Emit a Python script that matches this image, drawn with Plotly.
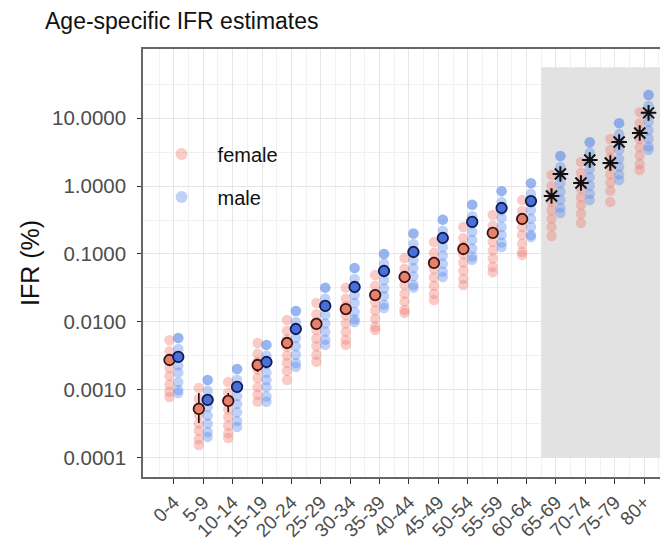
import plotly.graph_objects as go

age_groups = ["0-4", "5-9", "10-14", "15-19", "20-24", "25-29", "30-34", "35-39",
              "40-44", "45-49", "50-54", "55-59", "60-64", "65-69", "70-74", "75-79", "80+"]

# per-age-group sample estimates (IFR %)
female_samples = [
    [0.0054, 0.0037, 0.0028, 0.0021, 0.0016, 0.0012, 0.00094, 0.00079],
    [0.00107, 0.00074, 0.00056, 0.00043, 0.00032, 0.00025, 0.00019, 0.000155],
    [0.00131, 0.00091, 0.00069, 0.00052, 0.00040, 0.00030, 0.00023, 0.000197],
    [0.0049, 0.0034, 0.0026, 0.0020, 0.0015, 0.0011, 0.00085, 0.00067],
    [0.0107, 0.0074, 0.0056, 0.0043, 0.0032, 0.0025, 0.0019, 0.0014],
    [0.019, 0.013, 0.010, 0.0076, 0.0057, 0.0044, 0.0033, 0.0026],
    [0.032, 0.022, 0.017, 0.0126, 0.0095, 0.0072, 0.0055, 0.0046],
    [0.049, 0.034, 0.026, 0.0195, 0.0148, 0.0112, 0.0085, 0.0076],
    [0.087, 0.060, 0.046, 0.035, 0.026, 0.020, 0.015, 0.0136],
    [0.15, 0.104, 0.079, 0.060, 0.045, 0.034, 0.026, 0.021],
    [0.25, 0.17, 0.13, 0.099, 0.075, 0.057, 0.043, 0.035],
    [0.375, 0.26, 0.20, 0.15, 0.113, 0.086, 0.065, 0.054],
    [0.62, 0.43, 0.33, 0.25, 0.19, 0.14, 0.108, 0.097],
    [1.45, 1.0, 0.76, 0.58, 0.44, 0.33, 0.25, 0.184],
    [2.25, 1.56, 1.18, 0.90, 0.68, 0.52, 0.39, 0.286],
    [4.9, 3.4, 2.6, 1.95, 1.48, 1.12, 0.85, 0.58],
    [12.2, 8.4, 6.4, 4.9, 3.7, 2.8, 2.1, 1.72],
]
male_samples = [
    [0.0058, 0.0040, 0.0030, 0.0023, 0.0018, 0.0013, 0.0010, 0.00090],
    [0.0014, 0.00097, 0.00074, 0.00056, 0.00042, 0.00032, 0.00024, 0.000204],
    [0.00204, 0.00141, 0.00107, 0.00081, 0.00062, 0.00047, 0.00035, 0.000286],
    [0.0046, 0.0032, 0.0024, 0.0018, 0.0014, 0.0011, 0.0008, 0.00067],
    [0.0145, 0.010, 0.0076, 0.0058, 0.0044, 0.0033, 0.0025, 0.0022],
    [0.032, 0.022, 0.017, 0.0126, 0.0095, 0.0072, 0.0055, 0.0046],
    [0.062, 0.043, 0.033, 0.025, 0.019, 0.014, 0.011, 0.010],
    [0.10, 0.072, 0.054, 0.041, 0.031, 0.024, 0.018, 0.016],
    [0.20, 0.14, 0.107, 0.081, 0.062, 0.047, 0.035, 0.032],
    [0.32, 0.22, 0.17, 0.126, 0.095, 0.072, 0.055, 0.046],
    [0.53, 0.36, 0.28, 0.21, 0.16, 0.12, 0.092, 0.082],
    [0.84, 0.58, 0.44, 0.34, 0.25, 0.19, 0.147, 0.127],
    [1.1, 0.77, 0.58, 0.44, 0.33, 0.25, 0.19, 0.178],
    [2.76, 1.9, 1.45, 1.1, 0.83, 0.63, 0.48, 0.40],
    [4.4, 3.1, 2.3, 1.77, 1.34, 1.02, 0.77, 0.62],
    [8.4, 5.8, 4.4, 3.4, 2.5, 1.9, 1.47, 1.22],
    [21.8, 15.1, 11.4, 8.7, 6.6, 5.0, 3.8, 3.4],
]

female_est = [0.00276, 0.000526, 0.000689, 0.00233, 0.00491, 0.00935, 0.0155, 0.0249, 0.0459,
              0.0738, 0.1185, 0.204, 0.327, 0.713, 1.106, 2.18, 6.02]
male_est = [0.00306, 0.000713, 0.00111, 0.00258, 0.00789, 0.0172, 0.0327, 0.0562, 0.107,
            0.172, 0.296, 0.475, 0.601, 1.5, 2.41, 4.44, 11.9]
female_lo = [0.00276, 0.000327, 0.000474, 0.00184, 0.00491, 0.00935, 0.0155, 0.0249, 0.0459,
             0.0738, 0.1185, 0.204, 0.327, 0.713, 1.106, 2.18, 6.02]
female_hi = [0.00276, 0.000903, 0.000903, 0.00276, 0.00491, 0.00935, 0.0155, 0.0249, 0.0459,
             0.0738, 0.1185, 0.204, 0.327, 0.713, 1.106, 2.18, 6.02]
male_lo = [0.00306, 0.000601, 0.000935, 0.00258, 0.00789, 0.0172, 0.0327, 0.0562, 0.107,
           0.172, 0.296, 0.475, 0.601, 1.5, 2.41, 4.44, 11.9]
male_hi = [0.00306, 0.000843, 0.00131, 0.00258, 0.00789, 0.0172, 0.0327, 0.0562, 0.107,
           0.172, 0.296, 0.475, 0.601, 1.5, 2.41, 4.44, 11.9]

n_circle = 13  # groups drawn with circles; the rest with asterisks
dodge = 0.15

y_ticks = [0.0001, 0.001, 0.01, 0.1, 1, 10]
y_ticktext = ["0.0001", "0.0010", "0.0100", "0.1000", "1.0000", "10.0000"]

FONT = "Liberation Sans, Arial, sans-serif"
F_DOT = "rgba(240,128,118,0.40)"
M_DOT = "rgba(95,140,235,0.40)"

fig = go.Figure()

fx, fy, mx, my = [], [], [], []
for i in range(len(age_groups)):
    for v in female_samples[i]:
        fx.append(i - dodge); fy.append(v)
    for v in male_samples[i]:
        mx.append(i + dodge); my.append(v)
    # emphasise top sample for males
    mx.append(i + dodge); my.append(male_samples[i][0])

fig.add_trace(go.Scatter(x=fx, y=fy, mode="markers", name="female", legendgroup="f",
                         marker=dict(color=F_DOT, size=10.5, line=dict(width=0))))
fig.add_trace(go.Scatter(x=mx, y=my, mode="markers", name="male", legendgroup="m",
                         marker=dict(color=M_DOT, size=10.5, line=dict(width=0))))

idx = list(range(len(age_groups)))
ci = idx[:n_circle]
ai = idx[n_circle:]

def err(est, lo, hi, sel):
    return dict(type="data", symmetric=False,
                array=[hi[k] - est[k] for k in sel],
                arrayminus=[est[k] - lo[k] for k in sel],
                color="#111111", thickness=1.6, width=0)

fig.add_trace(go.Scatter(x=[k - dodge for k in ci], y=[female_est[k] for k in ci], mode="markers",
                         showlegend=False, error_y=err(female_est, female_lo, female_hi, ci),
                         marker=dict(color="#E8806E", size=10.5, line=dict(color="#3a1410", width=1.8))))
fig.add_trace(go.Scatter(x=[k + dodge for k in ci], y=[male_est[k] for k in ci], mode="markers",
                         showlegend=False, error_y=err(male_est, male_lo, male_hi, ci),
                         marker=dict(color="#4A70D8", size=10.5, line=dict(color="#0f1c55", width=1.8))))
fig.add_trace(go.Scatter(x=[k - dodge for k in ai] + [k + dodge for k in ai],
                         y=[female_est[k] for k in ai] + [male_est[k] for k in ai], mode="markers",
                         showlegend=False,
                         marker=dict(symbol="asterisk-open", color="#111111", size=13,
                                     line=dict(color="#111111", width=2))))

fig.add_shape(type="rect", xref="x", yref="y", x0=n_circle - 0.5, x1=17.5, y0=0.0001, y1=56,
              fillcolor="#e2e2e2", line=dict(width=0), layer="between")

fig.update_layout(
    width=660, height=546,
    margin=dict(l=143, r=0, t=49, b=69),
    paper_bgcolor="white", plot_bgcolor="white",
    font=dict(family=FONT, color="#4d4d4d"),
    title=dict(text="Age-specific IFR estimates", x=45 / 660, xanchor="left", xref="container",
               y=1 - 21 / 546, yanchor="middle", yref="container",
               font=dict(size=23, color="#111111", family=FONT)),
    legend=dict(x=0.005, y=0.80, xanchor="left", yanchor="top", bgcolor="rgba(0,0,0,0)",
                font=dict(size=20, color="#111111"), traceorder="grouped", tracegroupgap=14,
                itemsizing="constant", itemwidth=62),
    xaxis=dict(range=[-1.05, 16.54], tickvals=idx, ticktext=age_groups, tickangle=-45,
               showgrid=True, gridcolor="#e6e6e6", gridwidth=1,
               minor=dict(tickvals=[k + 0.5 for k in range(-1, 17)], showgrid=True,
                          gridcolor="#f1f1f1", gridwidth=1, ticks=""),
               showline=True, linecolor="#666666", linewidth=1.5, mirror=True,
               ticks="outside", ticklen=5, tickcolor="#333333", tickwidth=1.3,
               tickfont=dict(size=19, color="#4d4d4d"), zeroline=False),
    yaxis=dict(type="log", range=[-4.28, 2.015], tickvals=y_ticks, ticktext=y_ticktext,
               showgrid=True, gridcolor="#e6e6e6", gridwidth=1,
               minor=dict(tickvals=[10 ** (k + 0.5) for k in range(-5, 2)], showgrid=True,
                          gridcolor="#f1f1f1", gridwidth=1, ticks=""),
               showline=True, linecolor="#666666", linewidth=1.5,
               ticks="outside", ticklen=4, tickcolor="#333333", tickwidth=1.3,
               ticklabelstandoff=7,
               tickfont=dict(size=20.5, color="#4d4d4d"), zeroline=False,
               title=dict(text="IFR (%)", font=dict(size=25, color="#111111"), standoff=5)),
)

fig.write_html("out.html")
